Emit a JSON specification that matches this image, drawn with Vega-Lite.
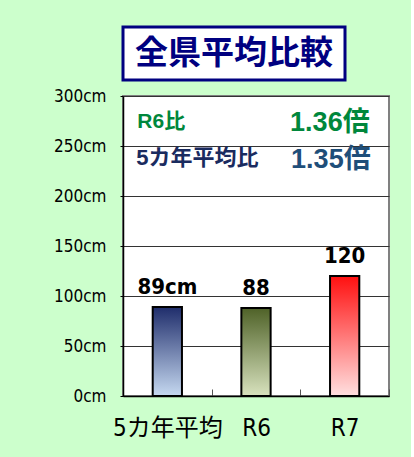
{
  "$schema": "https://vega.github.io/schema/vega-lite/v6.json",
  "background": "#CCFFCC",
  "padding": {"left": 52, "top": 25, "right": 20, "bottom": 20},
  "bounds": "flush",
  "spacing": 16,
  "config": {"font": "DejaVu Sans Condensed, Noto Sans CJK JP"},
  "vconcat": [
    {
      "width": 222,
      "height": 53,
      "view": {"fill": "white", "stroke": "#000080", "strokeWidth": 3},
      "data": {"values": [{"title": "全県平均比較"}]},
      "mark": {"type": "text", "font": "Noto Sans CJK JP", "fontWeight": "bold", "fontSize": 33, "color": "#000080", "align": "center", "baseline": "middle"},
      "encoding": {"text": {"field": "title"}}
    },
    {
      "width": 266,
      "height": 300,
      "view": {"fill": "white", "stroke": "#808080", "strokeWidth": 2},
      "layer": [
        {
          "data": {"name": "depths", "values": [
            {"period": "5カ年平均", "depth": 89, "label": "89cm"},
            {"period": "R6", "depth": 88, "label": "88"},
            {"period": "R7", "depth": 120, "label": "120"}
          ]},
          "encoding": {
            "x": {"field": "period", "type": "nominal",
              "scale": {"domain": ["5カ年平均", "R6", "R7"], "paddingInner": 0, "paddingOuter": 0},
              "axis": {"title": null, "labelAngle": 0, "labelFontSize": 24, "labelColor": "black", "labelPadding": 27, "domainColor": "black", "domainWidth": 1.5, "tickColor": "#555555", "tickSize": -7, "tickBand": "extent"}},
            "y": {"field": "depth", "type": "quantitative",
              "scale": {"domain": [0, 300], "nice": false},
              "axis": {"title": null, "values": [0, 50, 100, 150, 200, 250, 300], "labelExpr": "datum.value + 'cm'", "labelFontSize": 17, "labelColor": "black", "labelPadding": 14, "tickSize": 3, "tickColor": "black", "domainColor": "black", "domainWidth": 1.5, "gridColor": "#333333", "gridWidth": 1}}
          },
          "layer": [
            {
              "transform": [{"filter": "datum.period === '5カ年平均'"}],
              "mark": {"type": "bar", "width": {"band": 0.33}, "stroke": "black", "strokeWidth": 2,
                "color": {"gradient": "linear", "x1": 0, "y1": 0, "x2": 0, "y2": 1, "stops": [{"offset": 0, "color": "#1F2D6B"}, {"offset": 1, "color": "#C6D9F1"}]}}
            },
            {
              "transform": [{"filter": "datum.period === 'R6'"}],
              "mark": {"type": "bar", "width": {"band": 0.33}, "stroke": "black", "strokeWidth": 2,
                "color": {"gradient": "linear", "x1": 0, "y1": 0, "x2": 0, "y2": 1, "stops": [{"offset": 0, "color": "#4F6228"}, {"offset": 1, "color": "#D8E2BE"}]}}
            },
            {
              "transform": [{"filter": "datum.period === 'R7'"}],
              "mark": {"type": "bar", "width": {"band": 0.33}, "stroke": "black", "strokeWidth": 2,
                "color": {"gradient": "linear", "x1": 0, "y1": 0, "x2": 0, "y2": 1, "stops": [{"offset": 0, "color": "#FF1010"}, {"offset": 1, "color": "#FFE0E0"}]}}
            },
            {
              "mark": {"type": "text", "baseline": "alphabetic", "dy": -13, "fontSize": 22, "fontWeight": "bold", "color": "black"},
              "encoding": {"text": {"field": "label"}}
            }
          ]
        },
        {
          "data": {"values": [{"name": "R6比", "ratio": "1.36倍", "anchor": "5カ年平均", "end": "R7"}]},
          "layer": [
            {
              "mark": {"type": "text", "font": "Liberation Sans, Noto Sans CJK JP", "fontWeight": "bold", "fontSize": 21, "color": "#00873C", "align": "left", "baseline": "middle", "dx": -30},
              "encoding": {"x": {"field": "anchor", "type": "nominal"}, "y": {"datum": 274, "type": "quantitative"}, "text": {"field": "name"}}
            },
            {
              "mark": {"type": "text", "font": "Liberation Sans, Noto Sans CJK JP", "fontWeight": "bold", "fontSize": 27, "color": "#00873C", "align": "right", "baseline": "middle", "dx": 25},
              "encoding": {"x": {"field": "end", "type": "nominal"}, "y": {"datum": 273, "type": "quantitative"}, "text": {"field": "ratio"}}
            }
          ]
        },
        {
          "data": {"values": [{"name": "5カ年平均比", "ratio": "1.35倍", "anchor": "5カ年平均", "end": "R7"}]},
          "layer": [
            {
              "mark": {"type": "text", "font": "Liberation Sans, Noto Sans CJK JP", "fontWeight": "bold", "fontSize": 22, "color": "#1A2B5F", "align": "left", "baseline": "middle", "dx": -31},
              "encoding": {"x": {"field": "anchor", "type": "nominal"}, "y": {"datum": 238, "type": "quantitative"}, "text": {"field": "name"}}
            },
            {
              "mark": {"type": "text", "font": "Liberation Sans, Noto Sans CJK JP", "fontWeight": "bold", "fontSize": 27, "color": "#1F4E79", "align": "right", "baseline": "middle", "dx": 26},
              "encoding": {"x": {"field": "end", "type": "nominal"}, "y": {"datum": 236, "type": "quantitative"}, "text": {"field": "ratio"}}
            }
          ]
        }
      ]
    }
  ]
}
